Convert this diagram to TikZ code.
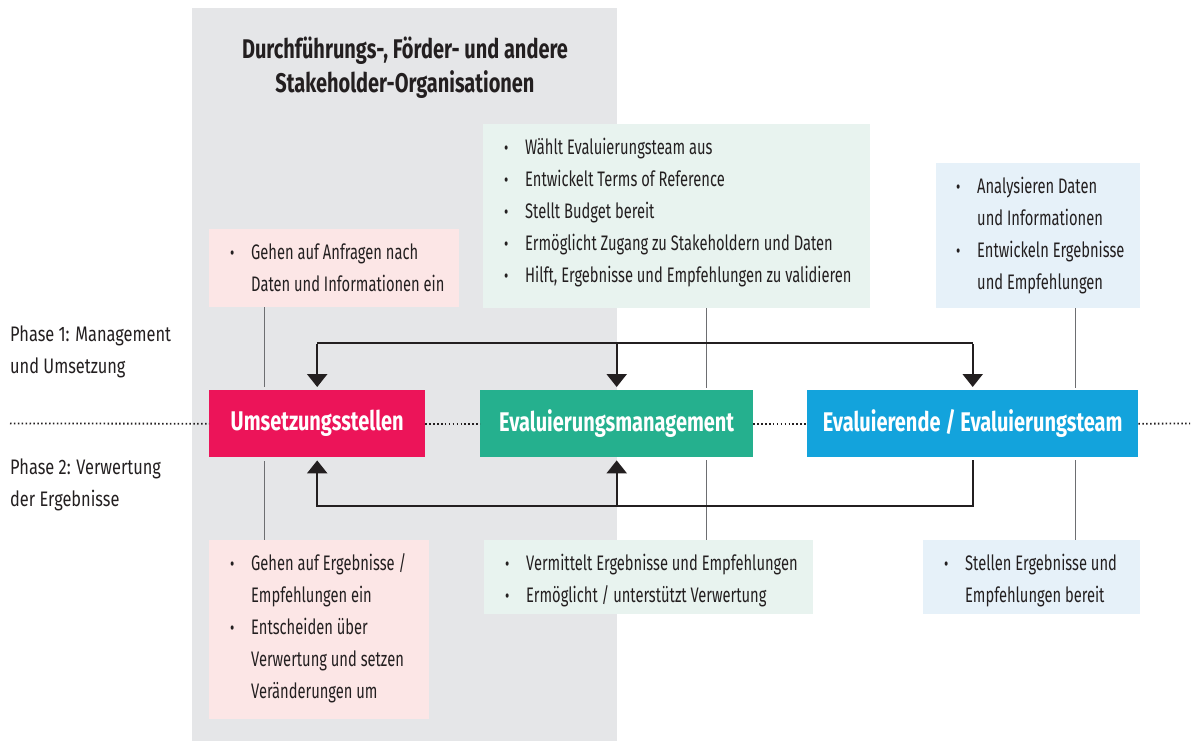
\documentclass[tikz,border=0pt]{standalone}
\usepackage{fontspec}
\setmainfont{Fira Sans}[FakeStretch=0.70]
\newfontfamily\phasefont{Fira Sans}[FakeStretch=0.78]
\newfontfamily\headfont{Fira Sans}[FakeStretch=0.74]
\usetikzlibrary{arrows.meta}
\definecolor{txt}{HTML}{231F20}
\definecolor{bggray}{HTML}{E5E6E8}
\definecolor{cred}{HTML}{EC1459}
\definecolor{cgreen}{HTML}{25B08E}
\definecolor{cblue}{HTML}{13A3DC}
\definecolor{lpink}{HTML}{FCE6E6}
\definecolor{lgreen}{HTML}{E8F3EF}
\definecolor{lblue}{HTML}{E6F1F9}
\definecolor{vline}{HTML}{6D6E71}
\newcommand{\bul}{\scalebox{0.9}{•}}
\newcommand{\infotext}[1]{{\fontsize{21}{32}\selectfont\renewcommand{\arraystretch}{1}\begin{tabular}{@{}p{21pt}@{}l@{}}#1\end{tabular}}}
\begin{document}
\begin{tikzpicture}[x=1pt,y=-1pt,
  infotxt/.style={inner sep=0pt, anchor=north west, text=txt},
  mainbox/.style={inner sep=0pt, anchor=north west, minimum height=67pt, text=white,
     font=\headfont\fontsize{27}{30}\selectfont\bfseries},
  phase/.style={inner sep=0pt, anchor=north west, text=txt, align=left,
     font=\phasefont\fontsize{21}{32}\selectfont},
  conn/.style={line width=2.4pt, draw=txt, line join=miter},
  arr/.style={conn, -{Triangle[width=20pt,length=13pt]}, shorten >=3pt},
  thinline/.style={draw=vline, line width=1pt},
  dots/.style={draw=txt, line width=1.8pt, dash pattern=on 1.5pt off 2.4pt}
]
\useasboundingbox (0,0) rectangle (1194,741);
\fill[bggray] (192,8) rectangle (617,741);

% title
\node[inner sep=0pt, text=txt, align=center, font=\headfont\fontsize{27}{34}\selectfont\bfseries]
  (title) at (405,68) {Durchführungs-, Förder- und andere\\Stakeholder-Organisationen};

% info boxes top
\fill[lpink] (209,229) rectangle (459,307);
\coordinate (pinkTopS) at (264,307);
\node[infotxt] (pinkTopT) at (230,237) {\infotext{\bul & Gehen auf Anfragen nach\\ & Daten und Informationen ein}};

\fill[lgreen] (483,124) rectangle (870,308);
\coordinate (greenTopS) at (706,308);
\node[infotxt] (greenTopT) at (504,131.5) {\infotext{\bul & Wählt Evaluierungsteam aus\\ \bul & Entwickelt Terms of Reference\\ \bul & Stellt Budget bereit\\ \bul & Ermöglicht Zugang zu Stakeholdern und Daten\\ \bul & Hilft, Ergebnisse und Empfehlungen zu validieren}};

\fill[lblue] (936,163) rectangle (1140,308);
\coordinate (blueTopS) at (1075,308);
\node[infotxt] (blueTopT) at (956,170.5) {\infotext{\bul & Analysieren Daten\\ & und Informationen\\ \bul & Entwickeln Ergebnisse\\ & und Empfehlungen}};

% info boxes bottom
\fill[lpink] (209,540) rectangle (429,719);
\coordinate (pinkBotN) at (264,540);
\node[infotxt] (pinkBotT) at (230,548) {\infotext{\bul & Gehen auf Ergebnisse /\\ & Empfehlungen ein\\ \bul & Entscheiden über\\ & Verwertung und setzen\\ & Veränderungen um}};

\fill[lgreen] (484,540) rectangle (813,614);
\coordinate (greenBotN) at (706,540);
\node[infotxt] (greenBotT) at (505,548) {\infotext{\bul & Vermittelt Ergebnisse und Empfehlungen\\ \bul & Ermöglicht / unterstützt Verwertung}};

\fill[lblue] (923,540) rectangle (1140,614);
\coordinate (blueBotN) at (1075,540);
\node[infotxt] (blueBotT) at (944,548) {\infotext{\bul & Stellen Ergebnisse und\\ & Empfehlungen bereit}};

% phase labels
\node[phase] (ph1) at (10,326) {Phase 1: Management\\und Umsetzung};
\node[phase] (ph2) at (10,459) {Phase 2: Verwertung\\der Ergebnisse};

% main boxes
\node[mainbox, fill=cred, minimum width=216pt] (us) at (209,390) {Umsetzungsstellen};
\node[mainbox, fill=cgreen, minimum width=273pt] (em) at (480,390) {Evaluierungsmanagement};
\node[mainbox, fill=cblue, minimum width=331pt] (et) at (807,390) {Evaluierende / Evaluierungsteam};

% dotted phase line
\coordinate (dotL) at (10,423.5);
\coordinate (dotR) at (1190,423.5);
\draw[dots] (dotL) -- (us.west);
\draw[dots] (us.east) -- (em.west);
\draw[dots] (em.east) -- (et.west);
\draw[dots] (et.east) -- (dotR);

% thin vertical lines
\draw[thinline, shorten >=3pt] (pinkTopS) -- (us.north -| pinkTopS);
\draw[thinline, shorten <=4pt] (us.south -| pinkBotN) -- (pinkBotN);
\draw[thinline, shorten >=2pt] (greenTopS) -- (em.north -| greenTopS);
\draw[thinline, shorten <=3pt] (em.south -| greenBotN) -- (greenBotN);
\draw[thinline, shorten >=2pt] (blueTopS) -- (et.north -| blueTopS);
\draw[thinline, shorten <=3pt] (et.south -| blueBotN) -- (blueBotN);

% top loop
\coordinate (topY) at (0,343);
\draw[conn] (us.north |- topY) -- (et.north |- topY);
\draw[arr] ([yshift=-1.2pt]us.north |- topY) -- (us.north);
\draw[arr] (em.north |- topY) -- (em.north);
\draw[arr] ([yshift=-1.2pt]et.north |- topY) -- (et.north);

% bottom loop
\coordinate (botY) at (0,506);
\draw[arr, shorten <=3pt] (et.south) |- (us.south |- botY) -- (us.south);
\draw[arr] (em.south |- botY) -- (em.south);
\end{tikzpicture}
\end{document}
